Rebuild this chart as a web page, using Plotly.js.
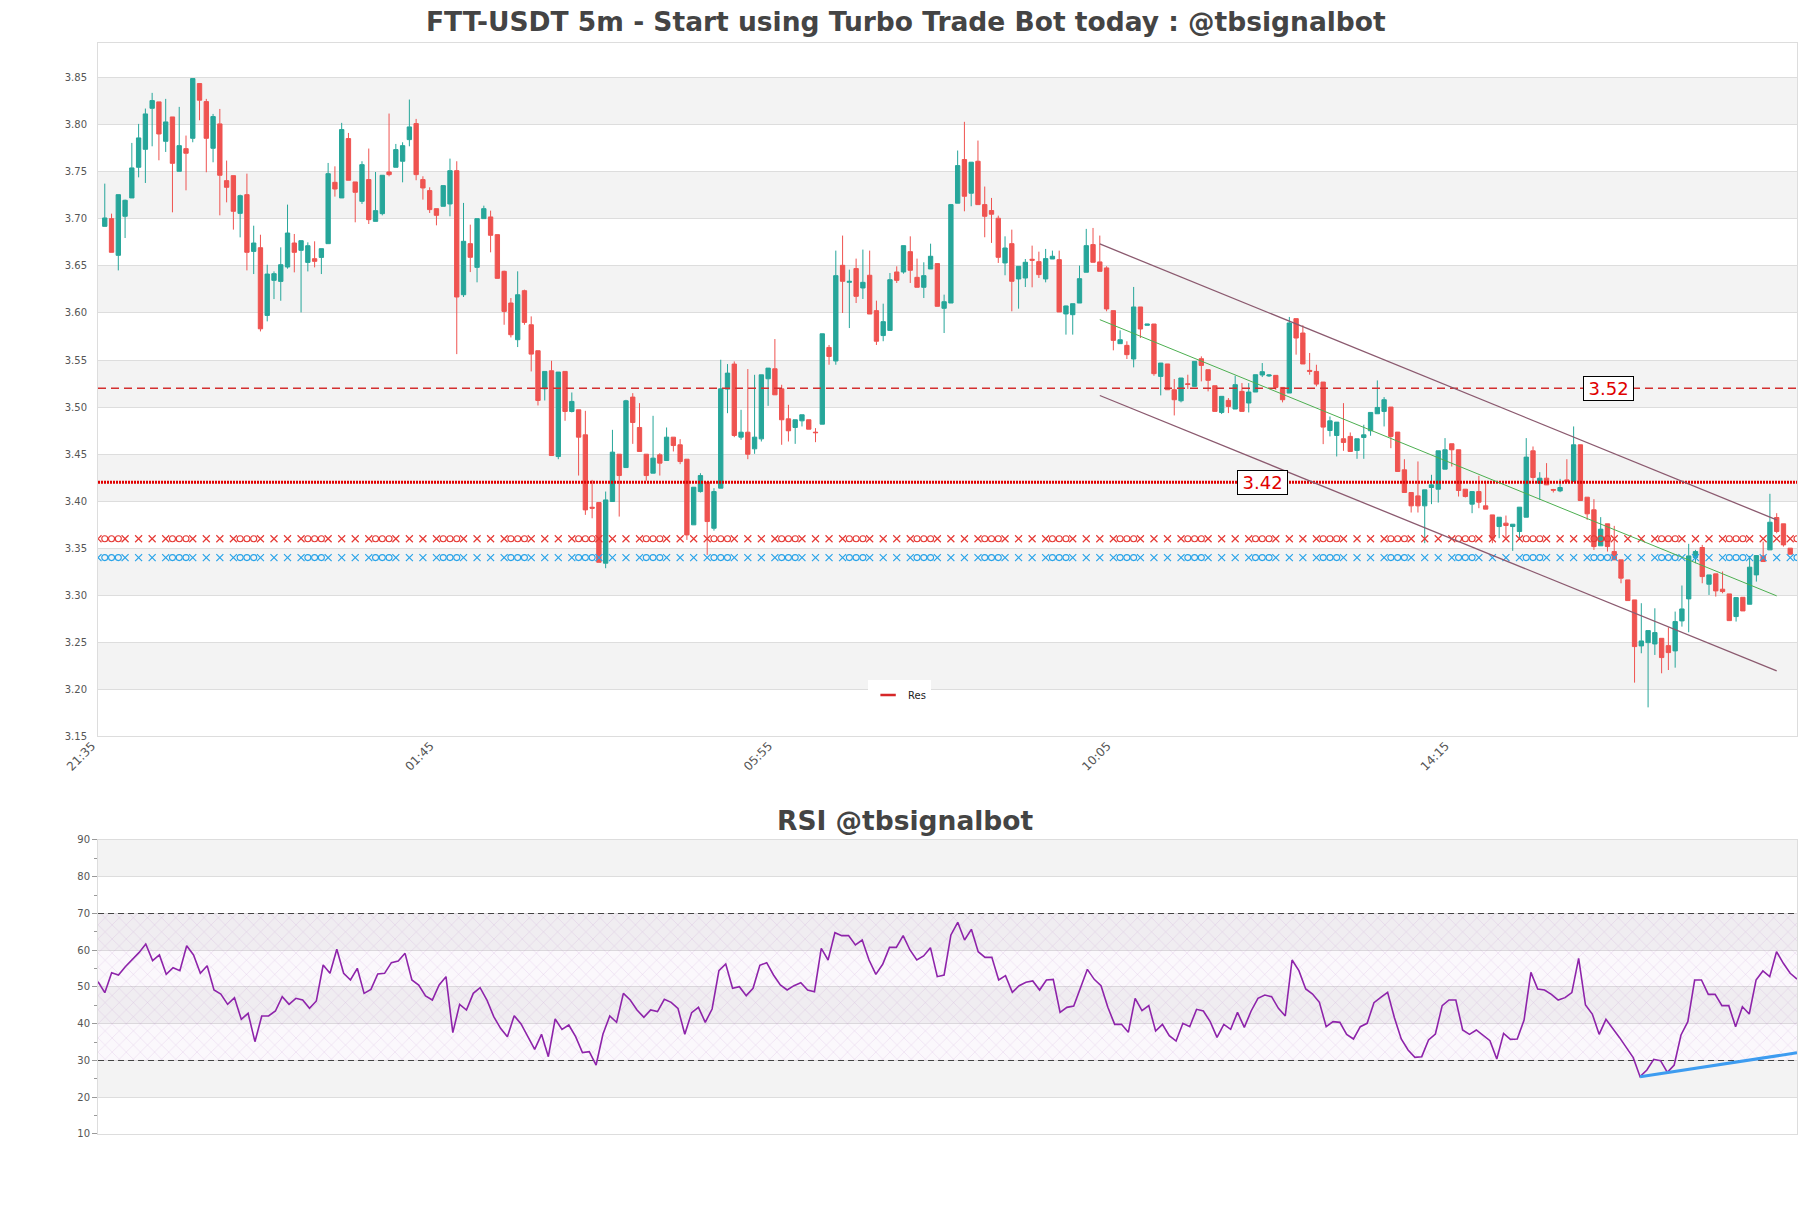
<!DOCTYPE html>
<html>
<head>
<meta charset="utf-8">
<script src="https://cdn.plot.ly/plotly-3.0.1.min.js"></script>
<style>
  body { margin: 0; background: #fff; }
  #chart { width: 1811px; height: 1208px; }
</style>
</head>
<body>
<div id="chart"></div>
<script>
// FTT-USDT 5m candles, index 0..249 (one per 5 minutes)
var opens = [
  3.6921,3.7003,3.6613,3.7028,3.7223,3.7549,3.7740,3.8176,3.8244,3.7825,
  3.8084,3.7506,3.7747,3.7857,3.8439,3.8247,3.7751,3.8010,3.7407,3.7460,
  3.7059,3.7258,3.6655,3.6694,3.5974,3.6347,3.6336,3.6489,3.6744,3.6666,
  3.6538,3.6577,3.6591,3.6737,3.7389,3.7223,3.7854,3.7393,3.7187,3.7418,
  3.6974,3.7056,3.7499,3.7549,3.7613,3.7843,3.8013,3.7418,3.7301,3.7109,
  3.7134,3.7159,3.7513,3.6194,3.6737,3.6485,3.7003,3.7021,3.6833,3.6443,
  3.6106,3.5716,3.6237,3.5875,3.5599,3.5194,3.5386,3.4474,3.5379,3.4953,
  3.4971,3.4705,3.3935,3.3985,3.3340,3.3996,3.4499,3.4357,3.5106,3.4783,
  3.4499,3.4297,3.4492,3.4432,3.4680,3.4599,3.4446,3.3748,3.4102,3.4201,
  3.3712,3.4138,3.5191,3.5457,3.4680,3.4733,3.4556,3.4662,3.5301,3.5407,
  3.5194,3.4875,3.4783,3.4854,3.4865,3.4733,3.4818,3.5634,3.5490,3.6507,
  3.6326,3.6472,3.6266,3.6401,3.6025,3.5760,3.5815,3.6436,3.6436,3.6652,
  3.6379,3.6273,3.6468,3.6525,3.6050,3.6106,3.7167,3.7631,3.7273,3.7613,
  3.7152,3.7089,3.7007,3.6532,3.6737,3.6362,3.6372,3.6571,3.6546,3.6362,
  3.6574,3.6567,3.5990,3.5982,3.6106,3.6433,3.6727,3.6543,3.6479,3.6025,
  3.5674,3.5656,3.5511,3.6064,3.5869,3.5883,3.5326,3.5458,3.5184,3.5067,
  3.5248,3.5220,3.5514,3.5397,3.5227,3.4943,3.5071,3.4979,3.5167,3.5043,
  3.5160,3.5341,3.5331,3.5337,3.5209,3.5149,3.5940,3.5787,3.5390,3.5379,
  3.5266,3.4751,3.4698,3.4663,3.4688,3.4539,3.4677,3.4748,3.4929,3.4954,
  3.5000,3.4734,3.4333,3.4092,3.4056,3.3950,3.4145,3.4127,3.4340,3.4610,
  3.4546,3.4127,3.3968,3.4102,3.3950,3.3854,3.3730,3.3766,3.3730,3.3677,
  3.3829,3.4535,3.4191,3.4244,3.4124,3.4109,3.4226,3.4209,3.4599,3.4042,
  3.3908,3.3525,3.3759,3.3464,3.3376,3.3163,3.2950,3.2461,3.2496,3.2482,
  3.2542,3.2464,3.2408,3.2727,3.2961,3.3400,3.3507,3.3117,3.3227,3.3064,
  3.3014,3.2773,3.2978,3.2904,3.3216,3.3418,3.3482,3.3826,3.3759,3.3500
];
var highs = [
  3.7375,3.7056,3.7258,3.7205,3.7808,3.8010,3.8173,3.8340,3.8244,3.8276,
  3.8084,3.8191,3.7886,3.8492,3.8439,3.8276,3.8116,3.8169,3.7620,3.7460,
  3.7258,3.7481,3.6928,3.6832,3.6513,3.6442,3.6698,3.7152,3.6840,3.6769,
  3.6751,3.6762,3.6684,3.7595,3.7559,3.8021,3.7914,3.7393,3.7613,3.7748,
  3.7499,3.7464,3.8120,3.7797,3.7815,3.8269,3.8063,3.7453,3.7336,3.7109,
  3.7354,3.7641,3.7613,3.7170,3.6939,3.7003,3.7141,3.7088,3.6833,3.6450,
  3.6159,3.6443,3.6248,3.5964,3.5599,3.5379,3.5492,3.5372,3.5379,3.5155,
  3.4971,3.4960,3.4226,3.3985,3.4102,3.4758,3.4499,3.5077,3.5148,3.5042,
  3.4499,3.4907,3.4510,3.4783,3.4680,3.4659,3.4446,3.4148,3.4297,3.4201,
  3.4138,3.5503,3.5457,3.5485,3.4971,3.5404,3.5343,3.5343,3.5414,3.5723,
  3.5237,3.5024,3.4865,3.4918,3.4865,3.4776,3.5779,3.5660,3.6663,3.6823,
  3.6461,3.6578,3.6674,3.6663,3.6131,3.6099,3.6425,3.6496,3.6716,3.6815,
  3.6578,3.6539,3.6737,3.6525,3.6195,3.7159,3.7727,3.8032,3.7603,3.7833,
  3.7344,3.7223,3.7035,3.6815,3.6886,3.6496,3.6574,3.6716,3.6652,3.6681,
  3.6663,3.6663,3.6078,3.6099,3.6504,3.6894,3.6904,3.6823,3.6497,3.6025,
  3.5816,3.5699,3.6277,3.6064,3.5883,3.5883,3.5468,3.5458,3.5298,3.5309,
  3.5344,3.5486,3.5539,3.5397,3.5227,3.5114,3.5096,3.5333,3.5255,3.5255,
  3.5344,3.5468,3.5348,3.5337,3.5209,3.5958,3.5940,3.5869,3.5575,3.5450,
  3.5266,3.4900,3.4840,3.5042,3.4730,3.4663,3.4812,3.4943,3.5283,3.5106,
  3.5000,3.4734,3.4446,3.4092,3.4422,3.4120,3.4280,3.4535,3.4670,3.4610,
  3.4546,3.4127,3.4102,3.4269,3.4216,3.3854,3.3829,3.3847,3.3755,3.3936,
  3.4670,3.4581,3.4308,3.4404,3.4130,3.4237,3.4446,3.4794,3.4599,3.4042,
  3.4021,3.3830,3.3759,3.3737,3.3376,3.3163,3.2950,3.2915,3.2624,3.2861,
  3.2542,3.2659,3.2826,3.3103,3.3546,3.3482,3.3535,3.3216,3.3227,3.3252,
  3.3014,3.2975,3.2978,3.3418,3.3422,3.3571,3.4078,3.3872,3.3759,3.3500
];
var lows = [
  3.6921,3.6645,3.6453,3.6797,3.7223,3.7442,3.7382,3.7772,3.7623,3.7712,
  3.7070,3.7506,3.7304,3.7815,3.8049,3.7496,3.7602,3.7038,3.7176,3.6886,
  3.6804,3.6453,3.6414,3.5804,3.5911,3.6148,3.6130,3.6471,3.6432,3.6006,
  3.6442,3.6485,3.6414,3.6737,3.7237,3.7223,3.7411,3.6964,3.7159,3.6946,
  3.6974,3.7038,3.7453,3.7549,3.7389,3.7772,3.7411,3.7205,3.7063,3.6932,
  3.7134,3.7028,3.5563,3.6170,3.6435,3.6326,3.7003,3.6645,3.6368,3.5875,
  3.5740,3.5638,3.5875,3.5379,3.5017,3.5070,3.4485,3.4446,3.4854,3.4943,
  3.4272,3.3854,3.3818,3.3350,3.3287,3.3996,3.3836,3.4357,3.4609,3.4528,
  3.4216,3.4297,3.4272,3.4432,3.4528,3.4393,3.3588,3.3748,3.4091,3.3428,
  3.3687,3.4138,3.4935,3.4680,3.4652,3.4446,3.4503,3.4634,3.5013,3.5130,
  3.4599,3.4634,3.4609,3.4794,3.4765,3.4627,3.4818,3.5450,3.5450,3.6000,
  3.5840,3.6106,3.6149,3.5989,3.5660,3.5700,3.5815,3.6319,3.6418,3.6319,
  3.6273,3.6159,3.6468,3.6071,3.5787,3.6106,3.7167,3.7081,3.7135,3.7152,
  3.6805,3.6745,3.6532,3.6401,3.6018,3.6046,3.6276,3.6273,3.6372,3.6326,
  3.6574,3.6011,3.5770,3.5770,3.6106,3.6433,3.6539,3.6443,3.6018,3.5603,
  3.5674,3.5511,3.5422,3.5734,3.5869,3.5333,3.5124,3.5184,3.4911,3.5050,
  3.5192,3.5220,3.5273,3.5167,3.4954,3.4926,3.4936,3.4979,3.4954,3.4943,
  3.5160,3.5319,3.5320,3.5184,3.5050,3.5149,3.5557,3.5458,3.5344,3.5220,
  3.4606,3.4688,3.4475,3.4535,3.4528,3.4450,3.4450,3.4695,3.4929,3.4794,
  3.4563,3.4315,3.4092,3.3879,3.3879,3.3553,3.3968,3.3985,3.4340,3.4368,
  3.4049,3.4039,3.3872,3.3925,3.3915,3.3553,3.3606,3.3606,3.3471,3.3588,
  3.3829,3.4209,3.4014,3.4173,3.4092,3.4095,3.4198,3.4209,3.4007,3.3801,
  3.3482,3.3525,3.3464,3.3376,3.3127,3.2943,3.2071,3.2383,3.1808,3.2365,
  3.2170,3.2205,3.2230,3.2666,3.2606,3.3340,3.3127,3.3003,3.2986,3.3021,
  3.2730,3.2720,3.2833,3.2904,3.3145,3.3358,3.3482,3.3659,3.3517,3.3436
];
var closes = [
  3.7010,3.6645,3.7258,3.7198,3.7542,3.7861,3.8116,3.8258,3.7903,3.8031,
  3.7591,3.7779,3.7698,3.8492,3.8262,3.7857,3.8088,3.7464,3.7336,3.7081,
  3.7247,3.6645,3.6744,3.5832,3.6414,3.6418,3.6513,3.6850,3.6645,3.6769,
  3.6715,3.6549,3.6684,3.7481,3.7318,3.7950,3.7411,3.7283,3.7577,3.6992,
  3.7088,3.7464,3.7471,3.7737,3.7779,3.7978,3.7471,3.7329,3.7099,3.7038,
  3.7354,3.7513,3.6170,3.6762,3.6592,3.7003,3.7109,3.6826,3.6368,3.6017,
  3.5769,3.6194,3.5900,3.5563,3.5070,3.5379,3.4485,3.5372,3.4953,3.5060,
  3.4680,3.3907,3.3925,3.3350,3.4013,3.4521,3.4272,3.5067,3.4836,3.4528,
  3.4272,3.4457,3.4404,3.4680,3.4591,3.4421,3.3641,3.4148,3.4272,3.3783,
  3.4102,3.5194,3.5361,3.4698,3.4733,3.4499,3.4680,3.5343,3.5414,3.5130,
  3.4865,3.4748,3.4865,3.4918,3.4765,3.4728,3.5779,3.5538,3.6397,3.6337,
  3.6336,3.6177,3.6326,3.5989,3.5700,3.5908,3.6354,3.6347,3.6716,3.6454,
  3.6273,3.6397,3.6603,3.6071,3.6120,3.7152,3.7567,3.7241,3.7603,3.7152,
  3.7028,3.7050,3.6592,3.6691,3.6337,3.6496,3.6539,3.6561,3.6408,3.6578,
  3.6603,3.6011,3.6075,3.6099,3.6365,3.6716,3.6539,3.6443,3.6043,3.5709,
  3.5716,3.5557,3.6064,3.5830,3.5883,3.5355,3.5468,3.5184,3.5078,3.5309,
  3.5240,3.5486,3.5443,3.5284,3.4954,3.5114,3.5007,3.5238,3.4954,3.5160,
  3.5344,3.5376,3.5341,3.5209,3.5078,3.5894,3.5734,3.5458,3.5380,3.5244,
  3.4787,3.4854,3.4840,3.4624,3.4528,3.4663,3.4705,3.4943,3.4996,3.5078,
  3.4688,3.4315,3.4092,3.3950,3.3950,3.4120,3.4173,3.4535,3.4546,3.4546,
  3.4113,3.4049,3.4102,3.3989,3.3915,3.3606,3.3829,3.3741,3.3755,3.3936,
  3.4468,3.4251,3.4244,3.4173,3.4117,3.4145,3.4209,3.4599,3.4007,3.3865,
  3.3517,3.3702,3.3517,3.3376,3.3181,3.2943,3.2454,3.2514,3.2624,3.2603,
  3.2337,3.2390,3.2720,3.2854,3.3418,3.3464,3.3198,3.3216,3.3046,3.3039,
  3.2730,3.2975,3.2833,3.3298,3.3422,3.3358,3.3776,3.3677,3.3535,3.3436
];
var rsi = [
  51.45,48.46,53.90,53.26,55.53,57.53,59.34,61.70,57.16,58.71,
  53.44,55.26,54.44,61.24,58.71,53.72,55.80,49.18,48.09,45.28,
  47.09,41.20,42.83,35.12,42.11,42.11,43.47,47.37,45.28,46.91,
  46.46,44.19,46.19,55.98,53.72,60.25,53.72,51.90,55.08,48.27,
  49.36,53.53,53.72,56.62,57.07,59.16,51.90,50.54,47.55,46.46,
  50.54,52.81,37.57,45.28,43.74,48.27,49.82,46.46,41.93,38.75,
  36.48,42.20,39.93,36.48,33.04,37.12,31.04,41.29,38.48,39.66,
  36.48,32.13,32.40,28.77,37.12,42.11,40.38,48.27,46.46,43.74,
  41.74,43.74,43.29,46.64,45.83,44.19,37.12,43.01,44.47,40.38,
  44.01,54.44,56.26,49.64,50.09,47.64,49.64,55.89,56.62,53.26,
  50.54,49.18,50.36,51.17,49.18,48.73,60.52,57.35,64.78,63.97,
  63.97,61.43,62.79,57.35,53.44,56.17,60.79,60.79,64.00,60.07,
  57.35,58.43,60.70,52.81,53.26,64.15,67.59,62.79,65.69,59.61,
  58.07,58.07,51.90,53.08,48.55,50.36,51.27,51.63,49.18,51.90,
  52.08,43.10,44.46,44.83,49.64,54.80,52.08,50.36,44.46,39.84,
  39.84,37.66,46.91,43.56,44.92,38.03,39.84,36.76,35.30,40.11,
  39.20,43.92,43.47,40.56,36.30,39.84,38.48,43.10,39.02,43.47,
  46.91,47.82,47.37,44.19,42.11,57.35,54.44,49.45,48.09,45.83,
  39.20,40.56,40.38,37.12,35.85,39.20,40.11,45.74,47.19,48.55,
  41.65,35.85,32.86,30.86,31.04,35.58,37.21,44.92,46.46,46.46,
  38.30,37.12,38.30,36.76,35.40,30.41,37.39,35.76,35.85,41.02,
  53.99,49.45,49.18,48.00,46.46,47.10,48.46,57.80,45.10,42.65,
  37.12,41.20,38.75,36.21,33.49,30.77,25.60,27.41,30.32,29.95,
  26.78,28.77,36.94,40.56,51.90,51.90,48.00,48.00,44.92,44.92,
  39.20,44.65,42.65,51.90,54.35,52.81,59.61,56.44,53.72,52.17
];

var idx = [];
for (var i = 0; i < closes.length; i++) idx.push(i);

// x labels
var tickPos = [-1, 49, 99, 149, 199];
var tickLabels = ['21:35', '01:45', '05:55', '10:05', '14:15'];

// levels
var resLevel = 3.52;
var res2Level = 3.42;
var redZone = 3.36;
var blueZone = 3.34;

// channel (start/end index and prices)
var chanX = [147, 247];
var chanUpper = [3.6734, 3.3801];
var chanMid = [3.5929, 3.2993];
var chanLower = [3.5123, 3.2195];

// rsi divergence
var divX = [226, 249];
var divY = [25.6, 32.1];
var rsiLevels = [30, 70];

var xMin = -1, xMax = 250;

var traces = [];

traces.push({
  type: 'candlestick', x: idx, open: opens, high: highs, low: lows, close: closes,
  xaxis: 'x', yaxis: 'y',
  increasing: {line: {color: '#26a69a', width: 1}, fillcolor: '#26a69a'},
  decreasing: {line: {color: '#ef5350', width: 1}, fillcolor: '#ef5350'},
  whiskerwidth: 0, showlegend: false, hoverinfo: 'skip'
});

// x / o chain lines, one mark per candle step
function chain(level, color) {
  var pattern = 'XOOOX.X.X.';
  var xx = [], ox = [];
  for (var k = 0; xMin + k <= xMax; k++) {
    var c = pattern.charAt(k % pattern.length);
    if (c === 'X') xx.push(xMin + k);
    if (c === 'O') ox.push(xMin + k);
  }
  traces.push({
    x: xx, y: xx.map(function () { return level; }), mode: 'markers', type: 'scatter',
    marker: {symbol: 'x-thin-open', size: 7, color: color, line: {color: color, width: 1.2}},
    showlegend: false, hoverinfo: 'skip'
  });
  traces.push({
    x: ox, y: ox.map(function () { return level; }), mode: 'markers', type: 'scatter',
    marker: {symbol: 'circle-open', size: 6, color: color, line: {color: color, width: 1.1}},
    showlegend: false, hoverinfo: 'skip'
  });
}
chain(redZone, '#e53935');
chain(blueZone, '#29a3e8');

traces.push({
  x: [xMin, xMax], y: [resLevel, resLevel], mode: 'lines', type: 'scatter',
  line: {color: '#d32f2f', width: 1.3, dash: '8px,5px'}, showlegend: false, hoverinfo: 'skip'
});
traces.push({
  x: [xMin, xMax], y: [res2Level, res2Level], mode: 'lines', type: 'scatter',
  line: {color: '#e00000', width: 3, dash: '2px,1px'}, showlegend: false, hoverinfo: 'skip'
});

traces.push({
  x: chanX, y: chanUpper, mode: 'lines', type: 'scatter',
  line: {color: '#8b5a6f', width: 1.3}, showlegend: false, hoverinfo: 'skip'
});
traces.push({
  x: chanX, y: chanLower, mode: 'lines', type: 'scatter',
  line: {color: '#8b5a6f', width: 1.3}, showlegend: false, hoverinfo: 'skip'
});
traces.push({
  x: chanX, y: chanMid, mode: 'lines', type: 'scatter',
  line: {color: '#4caf50', width: 1}, showlegend: false, hoverinfo: 'skip'
});

// last price tick at right edge
traces.push({
  x: [250.6], y: [redZone], mode: 'markers', type: 'scatter', cliponaxis: false,
  marker: {symbol: 'line-ew-open', size: 12, color: '#e53935', line: {color: '#e53935', width: 3}},
  showlegend: false, hoverinfo: 'skip'
});

// legend entry
traces.push({
  x: [null], y: [null], mode: 'markers', type: 'scatter', name: 'Res',
  marker: {symbol: 'line-ew-open', size: 11, color: '#d62728', line: {color: '#d62728', width: 2.5}},
  hoverinfo: 'skip'
});

// RSI panel
traces.push({
  x: [0, 249, 249, 0], y: [rsiLevels[0], rsiLevels[0], rsiLevels[1], rsiLevels[1]],
  xaxis: 'x2', yaxis: 'y2', type: 'scatter', mode: 'lines', fill: 'toself',
  line: {width: 0}, fillcolor: 'rgba(170,120,190,0.05)',
  fillpattern: {shape: 'x', fgcolor: 'rgba(170,110,190,0.35)', bgcolor: 'rgba(170,120,190,0.05)', size: 10, solidity: 0.08},
  showlegend: false, hoverinfo: 'skip'
});
rsiLevels.forEach(function (lv) {
  traces.push({
    x: [0, 249], y: [lv, lv], xaxis: 'x2', yaxis: 'y2', type: 'scatter', mode: 'lines',
    line: {color: '#444', width: 1.2, dash: '6px,4px'}, showlegend: false, hoverinfo: 'skip'
  });
});
traces.push({
  x: idx, y: rsi, xaxis: 'x2', yaxis: 'y2', type: 'scatter', mode: 'lines',
  line: {color: '#8e24aa', width: 1.6}, showlegend: false, hoverinfo: 'skip'
});
traces.push({
  x: divX, y: divY, xaxis: 'x2', yaxis: 'y2', type: 'scatter', mode: 'lines',
  line: {color: '#3d9cf0', width: 3}, showlegend: false, hoverinfo: 'skip'
});

// background bands
var mainBands = [3.20, 3.30, 3.40, 3.50, 3.60, 3.70, 3.80];
var rsiBands = [20, 40, 60, 80];
var shapes = [];
mainBands.forEach(function (b) {
  shapes.push({type: 'rect', xref: 'x domain', yref: 'y', x0: 0, x1: 1, y0: b, y1: b + 0.05,
    fillcolor: '#f3f3f3', line: {width: 0}, layer: 'below'});
});
rsiBands.forEach(function (b) {
  shapes.push({type: 'rect', xref: 'x2 domain', yref: 'y2', x0: 0, x1: 1, y0: b, y1: b + 10,
    fillcolor: '#f3f3f3', line: {width: 0}, layer: 'below'});
});

var priceTicks = [];
for (var p = 315; p <= 385; p += 5) priceTicks.push(p / 100);

var layout = {
  width: 1811, height: 1208,
  margin: {l: 98, r: 14, t: 43, b: 74},
  paper_bgcolor: 'white', plot_bgcolor: 'white',
  font: {family: 'DejaVu Sans', color: '#555', size: 10},
  boxgap: 0.2, boxgroupgap: 0.2,
  showlegend: true,
  legend: {x: 0.4718, y: 0.4024, xanchor: 'center', yanchor: 'middle', bgcolor: 'white',
    font: {size: 10, color: '#222'}, itemwidth: 30},
  shapes: shapes,
  xaxis: {
    domain: [0, 1], anchor: 'y', range: [xMin, xMax],
    tickvals: tickPos, ticktext: tickLabels, tickangle: -45, ticklabelshift: -6,
    ticklabelstandoff: -3,
    tickfont: {size: 12, color: '#555'}, ticks: '',
    showgrid: false, zeroline: false, showline: true, mirror: true, linecolor: '#dddddd',
    rangeslider: {visible: false}
  },
  yaxis: {
    domain: [0.3645, 1], anchor: 'x', range: [3.15, 3.887],
    tickvals: priceTicks, tickformat: '.2f', tickfont: {size: 10, color: '#555'},
    ticks: 'outside', ticklen: 8, tickcolor: 'rgba(0,0,0,0)',
    showgrid: true, gridcolor: '#dddddd', zeroline: false,
    showline: true, mirror: true, linecolor: '#dddddd'
  },
  xaxis2: {
    domain: [0, 1], anchor: 'y2', range: [0, 249], showticklabels: false, ticks: '',
    showgrid: false, zeroline: false, showline: true, mirror: true, linecolor: '#dddddd'
  },
  yaxis2: {
    domain: [0, 0.2695], anchor: 'x2', range: [10, 90],
    tickvals: [10, 20, 30, 40, 50, 60, 70, 80, 90], tickfont: {size: 10, color: '#555'},
    ticks: 'outside', ticklen: 5, tickcolor: '#999',
    minor: {dtick: 5, ticks: 'outside', ticklen: 3, tickcolor: '#999', showgrid: false},
    showgrid: true, gridcolor: '#dddddd', zeroline: false,
    showline: true, mirror: true, linecolor: '#dddddd'
  },
  annotations: [
    {xref: 'paper', yref: 'paper', x: 0.4753, y: 1.0193, xanchor: 'center', yanchor: 'middle', showarrow: false,
      text: '<b>FTT-USDT 5m - Start using Turbo Trade Bot today : @tbsignalbot</b>',
      font: {family: 'DejaVu Sans', size: 26.5, color: '#444'}},
    {xref: 'paper', yref: 'paper', x: 0.4753, y: 0.2878, xanchor: 'center', yanchor: 'middle', showarrow: false,
      text: '<b>RSI @tbsignalbot</b>',
      font: {family: 'DejaVu Sans', size: 26.5, color: '#444'}},
    {xref: 'x', yref: 'y', x: 222.2, y: resLevel, showarrow: false, text: '\u2009' + resLevel.toFixed(2) + '\u2009',
      font: {size: 18, color: '#e00000'}, bgcolor: 'white', bordercolor: '#000', borderwidth: 1, borderpad: 1},
    {xref: 'x', yref: 'y', x: 171.0, y: res2Level, showarrow: false, text: '\u2009' + res2Level.toFixed(2) + '\u2009',
      font: {size: 18, color: '#e00000'}, bgcolor: 'white', bordercolor: '#000', borderwidth: 1, borderpad: 1}
  ]
};

Plotly.newPlot('chart', traces, layout, {displayModeBar: false, staticPlot: true});
</script>
</body>
</html>
